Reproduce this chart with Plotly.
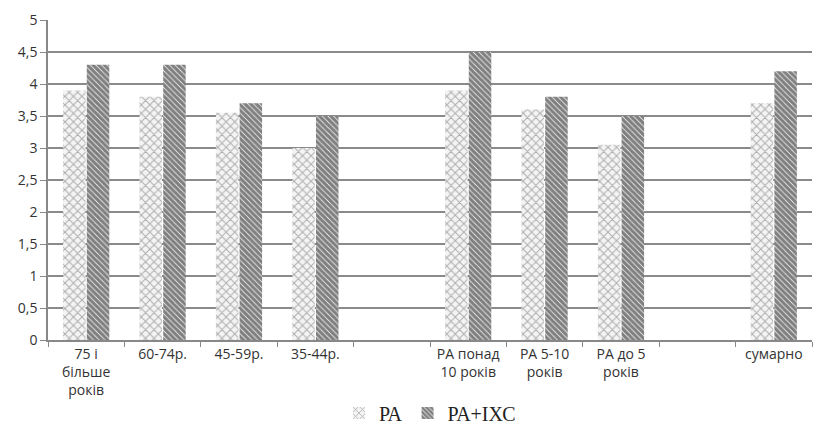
import plotly.graph_objects as go

categories = ["75 і<br>більше<br>років", "60-74р.", "45-59р.", "35-44р.", " ",
              "РА понад<br>10 років", "РА 5-10<br>років", "РА до 5<br>років", "  ", "сумарно"]
pa = [3.9, 3.8, 3.55, 3.0, None, 3.9, 3.6, 3.05, None, 3.7]
pa_ixc = [4.3, 4.3, 3.7, 3.5, None, 4.5, 3.8, 3.5, None, 4.2]
y_ticks = [0, 0.5, 1, 1.5, 2, 2.5, 3, 3.5, 4, 4.5, 5]

fig = go.Figure()
fig.add_trace(go.Bar(
    name="РА", x=categories, y=pa,
    marker=dict(color="white", line=dict(width=0),
                pattern=dict(shape="x", fgcolor="#666666", bgcolor="#f4f4f4",
                             size=6, solidity=0.3)),
))
fig.add_trace(go.Bar(
    name="РА+ІХС", x=categories, y=pa_ixc,
    marker=dict(color="white", line=dict(width=0),
                pattern=dict(shape="\\", fgcolor="#000000", bgcolor="#ffffff",
                             size=4, solidity=0.8)),
))

fig.update_layout(
    width=817, height=430,
    margin=dict(l=48, r=5, t=20, b=90, autoexpand=False),
    paper_bgcolor="white", plot_bgcolor="white",
    barmode="group", bargap=0.38, bargroupgap=0.05,
    separators=", ",
    font=dict(family="Open Sans, Noto Sans, sans-serif", size=13, color="#333333"),
    legend=dict(orientation="h", x=0.5, xanchor="center", y=-0.228, yanchor="middle",
                font=dict(family="Liberation Serif, serif", size=20, color="#222222"),
                itemwidth=30, traceorder="normal", tracegroupgap=0),
    showlegend=True,
)
fig.update_xaxes(
    type="category", tickson="boundaries", ticks="outside", ticklen=5,
    tickcolor="#888888", showline=True, linecolor="#888888", linewidth=1.5,
    showgrid=False, tickangle=0, tickfont=dict(size=14, color="#333333"),
    automargin=False,
)
fig.update_yaxes(
    range=[0, 5], tickvals=y_ticks, ticks="outside", ticklen=6, tickcolor="#888888",
    showgrid=True, gridcolor="#8a8a8a", gridwidth=1.5,
    showline=True, linecolor="#888888", linewidth=1.5, zeroline=False,
    tickfont=dict(size=14, color="#333333"), automargin=False,
)

fig.write_html("out.html")
